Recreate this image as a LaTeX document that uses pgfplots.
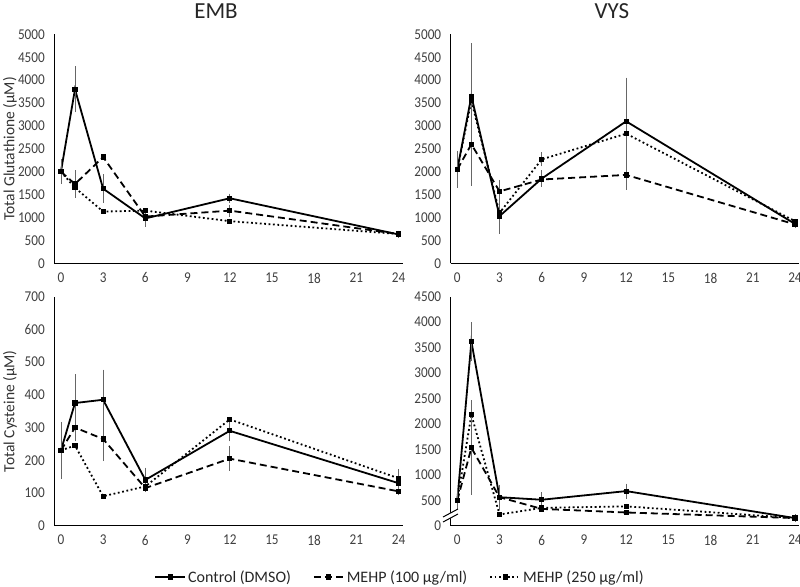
\documentclass[border=0pt]{standalone}
\usepackage{pgfplots}
\pgfplotsset{compat=1.18}
\usepackage{fontspec}
\setmainfont{Carlito}
\newfontfamily\tickfont{Carlito}[FakeStretch=0.88]
\begin{document}
\begin{tikzpicture}
\path[use as bounding box] (0pt,0pt) rectangle (800pt,-586pt);
\pgfplotsset{
  base/.style={
    scale only axis, width=348.5pt, height=229pt,
    xmin=-0.47, xmax=24.3, ymin=0,
    axis x line*=bottom, axis y line*=left,
    axis line style={black, line width=1.3pt},
    xtick={0,3,...,24}, major tick length=0pt,
    tick label style={font=\tickfont\fontsize{15}{17}\selectfont, text=black!75},
    /pgf/number format/assume math mode=true,
    /pgf/number format/1000 sep={},
    xticklabel style={yshift=-6pt},
    yticklabel style={xshift=-6pt},
    ylabel style={font=\fontsize{15.5}{17}\selectfont, text=black!80},
    anchor=south west,
  },
  ctrl/.style={black, line width=1.8pt, mark=square*, mark size=1.7pt, mark options={solid},
    error bars/.cd, y dir=both, y explicit,
    error bar style={solid, line width=0.7pt, black!60},
    error mark options={solid, line width=0.7pt, black!60, mark size=2.4pt}},
  m100/.style={black, line width=1.8pt, dash pattern=on 7pt off 4pt, mark=square*, mark size=1.7pt, mark options={solid},
    error bars/.cd, y dir=both, y explicit,
    error bar style={solid, line width=0.7pt, black!60},
    error mark options={solid, line width=0.7pt, black!60, mark size=2.4pt}},
  m250/.style={black, line width=1.8pt, dash pattern=on 1.8pt off 2.6pt, mark=square*, mark size=1.7pt, mark options={solid},
    error bars/.cd, y dir=both, y explicit,
    error bar style={solid, line width=0.7pt, black!60},
    error mark options={solid, line width=0.7pt, black!60, mark size=2.4pt}},
}
% EMB glutathione
\begin{axis}[base, at={(54.3pt,-263.3pt)}, ymax=5000, ytick={0,500,...,5000},
  ylabel={Total Glutathione (µM)}, ylabel style={at={(axis description cs:-0.127,0.5)}, anchor=center}]
\addplot[m250] table[y error=e] {
x y e
0 2000 0
1 1650 0
3 1130 0
6 1150 0
12 920 0
24 640 0
};
\addplot[m100] table[y error=e] {
x y e
0 2000 0
1 1730 250
3 2320 0
6 1020 0
12 1150 80
24 640 0
};
\addplot[ctrl] table[y error=e] {
x y e
0 2000 220
1 3800 450
3 1630 260
6 980 130
12 1420 50
24 630 30
};
\end{axis}
% VYS glutathione
\begin{axis}[base, at={(450.7pt,-263.3pt)}, ymax=5000, ytick={0,500,...,5000}]
\addplot[m250] table[y error=e] {
x y e
0 2050 0
1 3550 0
3 1100 250
6 2270 100
12 2830 730
24 920 0
};
\addplot[m100] table[y error=e] {
x y e
0 2050 0
1 2600 850
3 1570 200
6 1830 100
12 1930 270
24 850 30
};
\addplot[ctrl] table[y error=e] {
x y e
0 2050 350
1 3650 1100
3 1030 330
6 1850 130
12 3100 900
24 860 30
};
\end{axis}
% EMB cysteine
\begin{axis}[base, at={(54.3pt,-525.7pt)}, ymax=700, ytick={0,100,...,700},
  ylabel={Total Cysteine (µM)}, ylabel style={at={(axis description cs:-0.127,0.5)}, anchor=center},
  legend columns=3,
  legend style={at={(0.992,-0.224)}, anchor=center, draw=none, fill=none,
    font=\fontsize{16}{18}\selectfont, text=black!85,
    /tikz/every even column/.append style={column sep=20pt}},
  legend image code/.code={\draw[mark repeat=2,mark phase=2,#1] plot coordinates {(0pt,0pt) (15pt,0pt) (30pt,0pt)};},
  reverse legend]
\addplot[m250] table[y error=e] {
x y e
0 230 0
1 245 0
3 90 0
6 120 0
12 325 0
24 145 20
};
\addlegendentry{MEHP (250 µg/ml)}
\addplot[m100] table[y error=e] {
x y e
0 230 0
1 300 35
3 265 60
6 115 0
12 205 30
24 105 0
};
\addlegendentry{MEHP (100 µg/ml)}
\addplot[ctrl] table[y error=e] {
x y e
0 230 80
1 375 80
3 385 85
6 140 30
12 290 25
24 130 30
};
\addlegendentry{Control (DMSO)}
\end{axis}
% VYS cysteine
\begin{axis}[base, at={(450.7pt,-525.7pt)}, ymax=4500, ytick={0,500,...,4500}]
\addplot[m250] table[y error=e] {
x y e
0 500 0
1 2180 240
3 220 0
6 350 0
12 380 0
24 150 0
};
\addplot[m100] table[y error=e] {
x y e
0 500 0
1 1530 870
3 560 150
6 330 0
12 260 0
24 150 0
};
\addplot[ctrl] table[y error=e] {
x y e
0 500 200
1 3620 330
3 560 200
6 510 100
12 680 100
24 150 30
};
\end{axis}
% axis break
\fill[white] (443pt,-517pt) -- (458pt,-509pt) -- (458pt,-514pt) -- (443pt,-522pt) -- cycle;
\draw[black, line width=1pt] (443pt,-517pt) -- (458pt,-509pt);
\draw[black, line width=1pt] (443pt,-522pt) -- (458pt,-514pt);
% titles
\node[font=\fontsize{23}{26}\selectfont, text=black!85] at (216pt,-11pt) {EMB};
\node[font=\fontsize{23}{26}\selectfont, text=black!85] at (612pt,-11pt) {VYS};
\end{tikzpicture}
\end{document}
